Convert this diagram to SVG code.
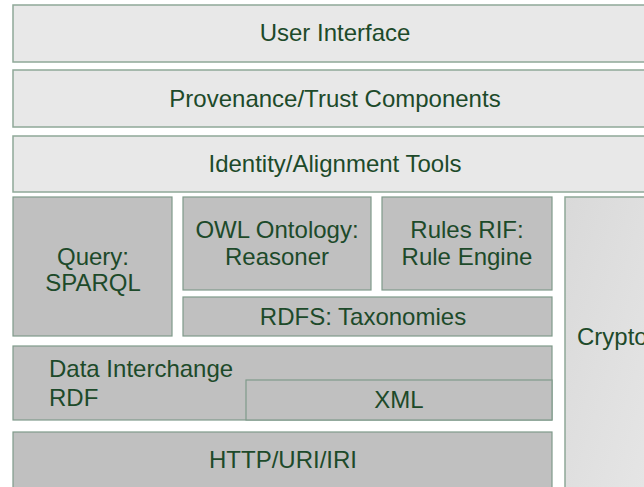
<svg xmlns="http://www.w3.org/2000/svg" width="644" height="487" viewBox="0 0 644 487">
<style>
.light{fill:#e8e8e8;stroke:#8fa898;stroke-width:1.5}
.mid{fill:#c0c0c0;stroke:#7f9a8a;stroke-width:1.2}
.t{font-family:"Liberation Sans",Arial,sans-serif;font-size:24px;fill:#1d4a2a}
.c{text-anchor:middle}
</style>
<defs>
<linearGradient id="cg" x1="0" y1="0" x2="1" y2="1">
<stop offset="0" stop-color="#d9d9d9"/>
<stop offset="1" stop-color="#e6e6e6"/>
</linearGradient>
</defs>
<rect width="644" height="487" fill="#ffffff"/>
<g id="user-interface">
<rect class="light" x="13" y="5" width="640" height="57"/>
<text class="t c" x="335" y="41">User Interface</text>
</g>
<g id="provenance">
<rect class="light" x="13" y="70" width="640" height="57"/>
<text class="t c" x="335" y="107">Provenance/Trust Components</text>
</g>
<g id="identity">
<rect class="light" x="13" y="136" width="640" height="56"/>
<text class="t c" x="335" y="172">Identity/Alignment Tools</text>
</g>
<g id="query">
<rect class="mid" x="13" y="197" width="159" height="139"/>
<text class="t c" x="93" y="265">Query:</text>
<text class="t c" x="93" y="291">SPARQL</text>
</g>
<g id="owl">
<rect class="mid" x="183" y="197" width="188" height="93"/>
<text class="t c" x="277" y="238">OWL Ontology:</text>
<text class="t c" x="277" y="265">Reasoner</text>
</g>
<g id="rules">
<rect class="mid" x="382" y="197" width="170" height="93"/>
<text class="t c" x="467" y="238">Rules RIF:</text>
<text class="t c" x="467" y="265">Rule Engine</text>
</g>
<g id="rdfs">
<rect class="mid" x="183" y="297" width="369" height="39"/>
<text class="t c" x="363" y="325">RDFS: Taxonomies</text>
</g>
<g id="crypto">
<rect x="565" y="197" width="90" height="300" fill="url(#cg)" stroke="#8fa898" stroke-width="1.5"/>
<text class="t" x="577" y="345">Crypto</text>
</g>
<g id="data-interchange">
<rect class="mid" x="13" y="346" width="539" height="74"/>
<text class="t" x="49" y="377">Data Interchange</text>
<text class="t" x="49" y="406">RDF</text>
</g>
<g id="xml">
<rect class="mid" x="246" y="380" width="306" height="40"/>
<text class="t c" x="399" y="408">XML</text>
</g>
<g id="http">
<rect class="mid" x="13" y="432" width="539" height="70"/>
<text class="t c" x="283" y="468">HTTP/URI/IRI</text>
</g>
<g id="connectors"></g>
</svg>
